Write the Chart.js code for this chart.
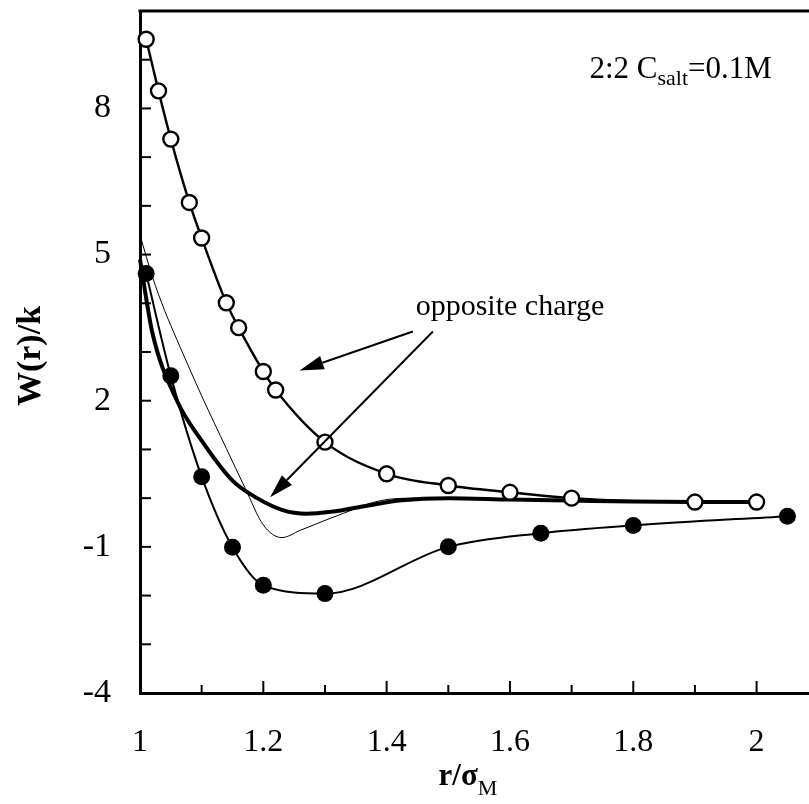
<!DOCTYPE html>
<html>
<head>
<meta charset="utf-8">
<script src="https://cdn.jsdelivr.net/npm/chart.js@4.4.0/dist/chart.umd.min.js"></script>
<style>
html, body { margin: 0; padding: 0; background: #fff; }
</style>
</head>
<body>
<canvas id="chart" width="809" height="804"></canvas>
<script>
// open circles
const openX = [1.01, 1.03, 1.05, 1.08, 1.10, 1.14, 1.16, 1.20, 1.22, 1.30, 1.40, 1.50, 1.60, 1.70, 1.90, 2.00];
const openY = [9.42, 8.36, 7.37, 6.07, 5.34, 4.01, 3.50, 2.60, 2.22, 1.15, 0.50, 0.26, 0.12, 0.00, -0.08, -0.08];
// filled circles
const filledX = [1.01, 1.05, 1.10, 1.15, 1.20, 1.30, 1.50, 1.65, 1.80, 2.05];
const filledY = [4.61, 2.51, 0.44, -1.01, -1.79, -1.96, -1.00, -0.72, -0.56, -0.37];
// thick line, no markers
const thickX = [1.00, 1.02, 1.06, 1.10, 1.15, 1.19, 1.23, 1.27, 1.31, 1.37, 1.42, 1.50, 1.60, 1.70, 1.80, 1.90, 2.00];
const thickY = [4.90, 3.40, 2.00, 1.18, 0.36, 0.00, -0.24, -0.32, -0.28, -0.15, -0.05, 0.00, -0.03, -0.05, -0.07, -0.08, -0.08];
// thin line, no markers
const thinX = [1.00, 1.02, 1.04, 1.06, 1.10, 1.14, 1.17, 1.20, 1.23, 1.26, 1.33, 1.39, 1.45, 1.50, 1.60, 1.80, 2.00];
const thinY = [5.40, 4.55, 3.85, 3.25, 2.10, 1.02, 0.22, -0.55, -0.81, -0.66, -0.31, -0.05, 0.00, 0.00, -0.03, -0.07, -0.08];

const xTickLabels = [1, 1.2, 1.4, 1.6, 1.8, 2];
const yTickLabels = [8, 5, 2, -1, -4];

const serif = '"Liberation Serif", "Times New Roman", serif';

function pts(xs, ys) {
    return xs.map((v, i) => ({x: v, y: ys[i]}));
}

function arrow(ctx, x1, y1, x2, y2) {
    const ang = Math.atan2(y2 - y1, x2 - x1);
    const len = 24, half = 7;
    const bx = x2 - len * Math.cos(ang), by = y2 - len * Math.sin(ang);
    ctx.beginPath();
    ctx.moveTo(x1, y1);
    ctx.lineTo(bx, by);
    ctx.stroke();
    ctx.beginPath();
    ctx.moveTo(x2, y2);
    ctx.lineTo(bx + half * Math.sin(ang), by - half * Math.cos(ang));
    ctx.lineTo(bx - half * Math.sin(ang), by + half * Math.cos(ang));
    ctx.closePath();
    ctx.fill();
}

function noPad(s) {
    s.paddingLeft = 0;
    s.paddingRight = 0;
    s.paddingTop = 0;
    s.paddingBottom = 0;
}

const decor = {
    id: 'decor',
    afterDraw(chart) {
        const {ctx, chartArea: a, scales: {x, y}} = chart;
        ctx.save();
        ctx.strokeStyle = '#000';
        ctx.fillStyle = '#000';

        // inner tick marks
        ctx.lineWidth = 2;
        x.ticks.forEach(t => {
            const v = t.value;
            if (Math.abs(v * 10 - Math.round(v * 10)) > 1e-6 || v > 2.05) return;
            const px = x.getPixelForValue(v);
            const major = Math.abs(v * 5 - Math.round(v * 5)) < 1e-6;
            ctx.beginPath();
            ctx.moveTo(px, a.bottom);
            ctx.lineTo(px, a.bottom - (major ? 12 : 8));
            ctx.stroke();
        });
        y.ticks.forEach(t => {
            const py = y.getPixelForValue(t.value);
            ctx.beginPath();
            ctx.moveTo(a.left, py);
            ctx.lineTo(a.left + 11, py);
            ctx.stroke();
        });

        // top frame line
        ctx.lineWidth = 3;
        ctx.beginPath();
        ctx.moveTo(a.left - 1.5, a.top);
        ctx.lineTo(a.right, a.top);
        ctx.stroke();

        // arrows
        ctx.lineWidth = 2;
        arrow(ctx, x.getPixelForValue(1.4425), y.getPixelForValue(3.42),
                   x.getPixelForValue(1.259), y.getPixelForValue(2.62));
        arrow(ctx, x.getPixelForValue(1.475), y.getPixelForValue(3.42),
                   x.getPixelForValue(1.211), y.getPixelForValue(0.02));

        // annotation text
        ctx.font = '30px ' + serif;
        ctx.textAlign = 'center';
        ctx.textBaseline = 'middle';
        ctx.fillText('opposite charge', x.getPixelForValue(1.6), y.getPixelForValue(3.93));

        // top right label
        ctx.textAlign = 'left';
        ctx.textBaseline = 'alphabetic';
        let tx = x.getPixelForValue(1.729);
        const ty = y.getPixelForValue(8.62);
        ctx.font = '31px ' + serif;
        ctx.fillText('2:2 C', tx, ty);
        tx += ctx.measureText('2:2 C').width;
        ctx.font = '22px ' + serif;
        ctx.fillText('salt', tx, ty + 7);
        tx += ctx.measureText('salt').width;
        ctx.font = '31px ' + serif;
        ctx.fillText('=0.1M', tx, ty);

        // y title
        ctx.save();
        ctx.translate(31, 356);
        ctx.rotate(-Math.PI / 2);
        ctx.font = 'bold 34px ' + serif;
        ctx.textAlign = 'center';
        ctx.textBaseline = 'middle';
        ctx.fillText('W(r)/k', 0, 0);
        ctx.restore();

        // x title
        ctx.font = 'bold 31px ' + serif;
        const w1 = ctx.measureText('r/σ').width;
        ctx.font = '22px ' + serif;
        const w2 = ctx.measureText('M').width;
        const sx = 468 - (w1 + w2) / 2;
        ctx.font = 'bold 31px ' + serif;
        ctx.fillText('r/σ', sx, 785);
        ctx.font = '22px ' + serif;
        ctx.fillText('M', sx + w1, 795);

        ctx.restore();
    }
};

new Chart(document.getElementById('chart'), {
    type: 'line',
    data: {
        datasets: [{
            data: pts(openX, openY),
            borderColor: '#000',
            borderWidth: 2.4,
            pointRadius: 7.5,
            pointBorderWidth: 2.4,
            pointBackgroundColor: '#fff',
            pointBorderColor: '#000',
            cubicInterpolationMode: 'monotone',
            clip: false
        }, {
            data: pts(filledX, filledY),
            borderColor: '#000',
            borderWidth: 2,
            pointRadius: 8.5,
            pointBorderWidth: 0,
            pointBackgroundColor: '#000',
            cubicInterpolationMode: 'monotone',
            clip: false
        }, {
            data: pts(thickX, thickY),
            borderColor: '#000',
            borderWidth: 4,
            pointRadius: 0,
            cubicInterpolationMode: 'monotone',
            clip: false
        }, {
            data: pts(thinX, thinY),
            borderColor: '#000',
            borderWidth: 1,
            pointRadius: 0,
            cubicInterpolationMode: 'monotone',
            clip: false
        }]
    },
    options: {
        responsive: false,
        animation: false,
        layout: {autoPadding: false, padding: {top: 11, right: 0, left: 0, bottom: 0}},
        plugins: {legend: {display: false}, tooltip: {enabled: false}},
        scales: {
            x: {
                type: 'linear',
                min: 1,
                max: 2.085,
                grid: {display: false, drawTicks: false},
                border: {display: true, width: 3, color: '#000'},
                ticks: {
                    stepSize: 0.1,
                    includeBounds: false,
                    autoSkip: false,
                    maxRotation: 0,
                    padding: 30,
                    color: '#000',
                    font: {family: serif, size: 32},
                    callback: v => {
                        const r = Math.round(v * 10) / 10;
                        return xTickLabels.includes(r) && Math.abs(v - r) < 1e-6 ? String(r) : '';
                    }
                },
                afterFit(s) { s.height = 111; noPad(s); }
            },
            y: {
                min: -4,
                max: 10,
                grid: {display: false, drawTicks: false},
                border: {display: true, width: 3, color: '#000'},
                ticks: {
                    stepSize: 1,
                    includeBounds: false,
                    autoSkip: false,
                    padding: 29,
                    color: '#000',
                    font: {family: serif, size: 34},
                    callback: v => yTickLabels.includes(v) ? String(v) : ''
                },
                afterFit(s) { s.width = 140; noPad(s); }
            }
        }
    },
    plugins: [decor]
});
</script>
</body>
</html>
